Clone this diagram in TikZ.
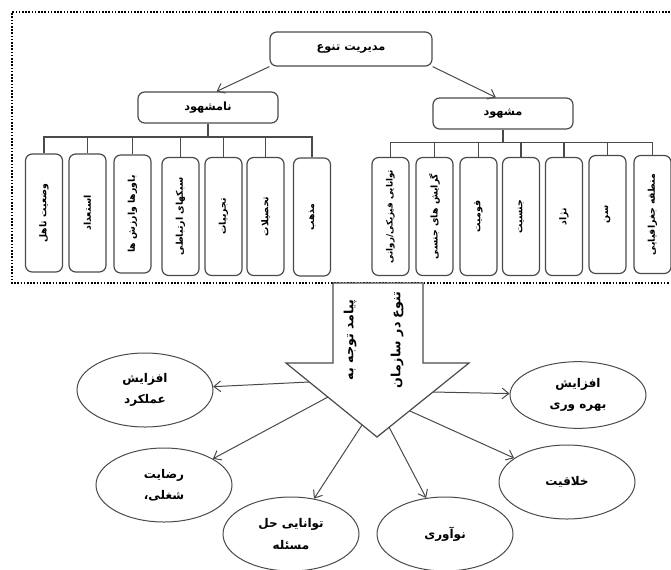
\documentclass[tikz,border=0pt]{standalone}
\usepackage{fontspec}
\usepackage{graphicx}
\usetikzlibrary{shapes.geometric,arrows.meta}
\TeXXeTstate=1
\newfontfamily\farsi[Script=Arabic]{DejaVu Sans}
\newcommand{\fatext}[1]{\beginR #1\endR}
\newcommand{\vtext}[1]{\rotatebox{90}{\beginR #1\endR}}
\definecolor{lineGray}{HTML}{4A4A4A}

\begin{document}
\begin{tikzpicture}[x=0.75pt, y=-0.75pt,
    topStyle/.style={draw=lineGray, line width=0.9pt, rounded corners=5pt, minimum width=105pt, minimum height=23.25pt, inner sep=0pt, font=\farsi\bfseries\fontsize{8.5}{10}\selectfont},
    leafStyle/.style={draw=lineGray, line width=0.9pt, rounded corners=5pt, minimum width=27.75pt, minimum height=88.5pt, inner sep=0pt, font=\farsi\bfseries\fontsize{7}{8}\selectfont},
    ellStyle/.style={ellipse, draw=lineGray, line width=0.75pt, minimum width=102pt, minimum height=55.5pt, inner sep=0pt, align=center, font=\farsi\bfseries\small},
    bigText/.style={rotate=90, inner sep=0pt, font=\farsi\bfseries\fontsize{9.5}{11}\selectfont},
    treeLine/.style={draw=lineGray, line width=0.9pt},
    conn/.style={draw=lineGray, line width=0.75pt, -{Straight Barb[length=5pt,width=8pt]}}]
    \useasboundingbox (0,0) rectangle (671,569);

    \draw[line width=1.2pt, dash pattern=on 1.2pt off 1.2pt] (670,12) -- (12,12) -- (12,283) -- (670,283);

    \node[topStyle, minimum width=121.5pt, minimum height=25.5pt] (root) at (351,49) {\fatext{مدیریت تنوع}};
    \node[topStyle] (hidden) at (208,107.5) {\fatext{نامشهود}};
    \node[topStyle] (seen) at (503,113.5) {\fatext{مشهود}};

    \node[leafStyle] (l1) at (44,213) {\vtext{وضعیت تاهل}};
    \node[leafStyle] (l2) at (87.5,213) {\vtext{استعداد}};
    \node[leafStyle] (l3) at (132.5,214) {\vtext{باورها وارزش ها}};
    \node[leafStyle] (l4) at (180.5,216.5) {\vtext{سبکهای ارتباطی}};
    \node[leafStyle] (l5) at (223.5,216.5) {\vtext{تجربیات}};
    \node[leafStyle] (l6) at (265.5,216.5) {\vtext{تحصیلات}};
    \node[leafStyle] (l7) at (312,217) {\vtext{مذهب}};

    \node[leafStyle, font=\farsi\bfseries\fontsize{6.5}{7}\selectfont] (r1) at (390.5,216.5) {\vtext{توانایی فیزیکی/روانی}};
    \node[leafStyle] (r2) at (434.5,216.5) {\vtext{گرایش های جنسی}};
    \node[leafStyle] (r3) at (478.5,216.5) {\vtext{قومیت}};
    \node[leafStyle] (r4) at (521,216.5) {\vtext{جنسیت}};
    \node[leafStyle] (r5) at (564,216.5) {\vtext{نژاد}};
    \node[leafStyle] (r6) at (607.5,214.5) {\vtext{سن}};
    \node[leafStyle] (r7) at (652.5,214.5) {\vtext{منطقه جغرافیایی}};

    \coordinate (hidBar) at (0,137);
    \coordinate (seenBar) at (0,142.5);

    \draw[conn] (root.south west) -- (hidden.62);
    \draw[conn] (root.south east) -- (seen.114);

    \draw[treeLine] (hidden.south) -- (hidden.south |- hidBar);
    \draw[treeLine] (l1.north) |- (l7.north |- hidBar) -- (l7.north);
    \draw[treeLine] (l2.north) -- (l2.north |- hidBar);
    \draw[treeLine] (l3.north) -- (l3.north |- hidBar);
    \draw[treeLine] (l4.north) -- (l4.north |- hidBar);
    \draw[treeLine] (l5.north) -- (l5.north |- hidBar);
    \draw[treeLine] (l6.north) -- (l6.north |- hidBar);

    \draw[treeLine] (seen.south) -- (seen.south |- seenBar);
    \draw[treeLine] (r1.north) |- (r7.north |- seenBar) -- (r7.north);
    \draw[treeLine] (r2.north) -- (r2.north |- seenBar);
    \draw[treeLine] (r3.north) -- (r3.north |- seenBar);
    \draw[treeLine] (r4.north) -- (r4.north |- seenBar);
    \draw[treeLine] (r5.north) -- (r5.north |- seenBar);
    \draw[treeLine] (r6.north) -- (r6.north |- seenBar);

    \draw[draw=lineGray, fill=white, line width=0.9pt] (333,283) -- (423,283) -- (423,363) -- (469,363) -- (377,437) -- (286,363) -- (333,363) -- cycle;
    \node[bigText] (outcomeA) at (350,340) {\fatext{پیامد توجه به}};
    \node[bigText] (outcomeB) at (397,340) {\fatext{تنوع در سازمان}};

    \node[ellStyle] (perfEll) at (145,390) {\fatext{افزایش}\\[5pt]\fatext{عملکرد}};
    \node[ellStyle] (satisEll) at (164,485) {\fatext{رضایت}\\[5pt]\fatext{شغلی،}};
    \node[ellStyle] (solveEll) at (291,534) {\fatext{توانایی حل}\\[5pt]\fatext{مسئله}};
    \node[ellStyle] (innovEll) at (445,534) {\fatext{نوآوری}};
    \node[ellStyle] (creatEll) at (567,482) {\fatext{خلاقیت}};
    \node[ellStyle, minimum height=50pt] (prodEll) at (578,395) {\fatext{افزایش}\\[5pt]\fatext{بهره وری}};

    \coordinate (c1) at (309,382);
    \coordinate (c2) at (328,397);
    \coordinate (c3) at (362,425);
    \coordinate (c4) at (389,427);
    \coordinate (c5) at (410,411);
    \coordinate (c6) at (433,392);

    \draw[conn] (c1) -- (perfEll);
    \draw[conn] (c2) -- (satisEll);
    \draw[conn] (c3) -- (solveEll);
    \draw[conn] (c4) -- (innovEll);
    \draw[conn] (c5) -- (creatEll);
    \draw[conn] (c6) -- (prodEll);
\end{tikzpicture}
\end{document}
